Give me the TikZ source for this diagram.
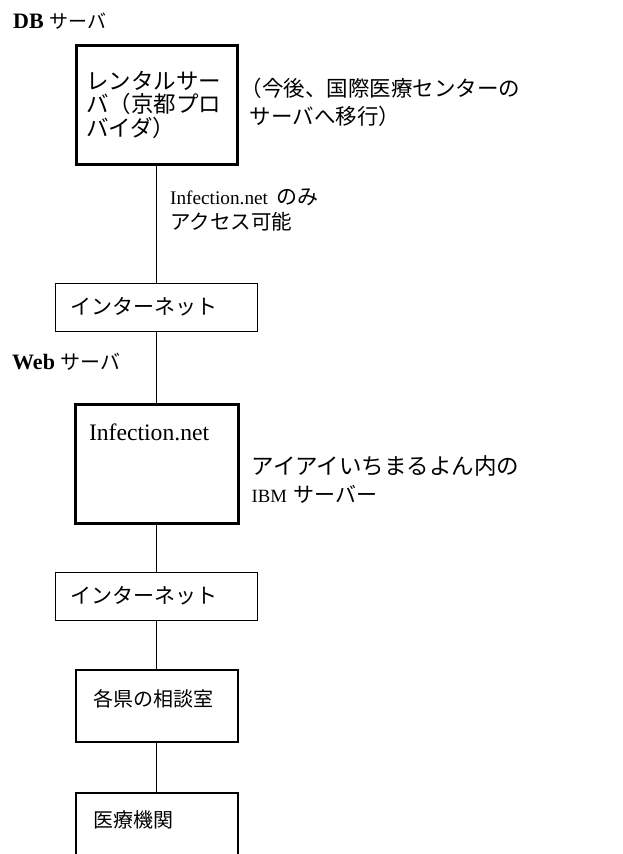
\documentclass[tikz,border=0pt]{standalone}
\usepackage{fontspec}
\setmainfont{Liberation Serif}[Scale=1.1]
\newfontfamily\jp{Noto Sans CJK JP}
\usetikzlibrary{positioning}

\begin{document}
\begin{tikzpicture}[x=1pt, y=-1pt, every node/.style={font=\fontsize{20}{25}\selectfont}, srvbox/.style={draw,line width=3pt,align=left}, netbox/.style={draw,line width=1pt,minimum height=48pt,text width=172pt,inner xsep=15pt,align=left,font=\jp\fontsize{21}{25}\selectfont}, sitebox/.style={draw,line width=2pt,text width=126pt,inner xsep=18pt,inner ysep=8pt,align=left,font=\jp\fontsize{20}{25}\selectfont}, note/.style={anchor=west,align=left,inner sep=0pt}, link/.style={line width=1.3pt}]
\path[use as bounding box,clip] (0,0) rectangle (623,854);
\node[srvbox,minimum height=119pt,text width=141pt,inner xsep=10pt,font=\jp\fontsize{22.5}{23.5}\selectfont] (rental) at (156.5,104.5) {レンタルサー\\バ（京都プロ\\バイダ）};
\node[netbox,below=117pt of rental] (net1) {インターネット};
\node[srvbox,below=71pt of net1,text width=135pt,inner xsep=14pt,inner ysep=8pt,text height=28pt,text depth=75pt,font=\fontsize{21.5}{25}\selectfont] (web) {Infection.net};
\node[netbox,below=47pt of web] (net2) {インターネット};
\node[sitebox,below=48pt of net2,text height=29pt,text depth=27pt] (office) {各県の相談室};
\node[sitebox,below=49pt of office,text height=27pt,text depth=100pt] (clinic) {医療機関};
% labels
\node[note] (dblabel) at (13,21) {{\bfseries DB} {\jp\fontsize{19}{25}\selectfont サーバ}};
\node[note,right=2pt of rental,yshift=2.5pt,font=\jp\fontsize{21.5}{28}\selectfont] (move) {（今後、国際医療センターの\\\hspace*{9pt}サーバへ移行）};
\node[note] (access) at (170,209.5) {\fontsize{17.5}{25}\selectfont Infection.net\hspace{4pt} {\jp\fontsize{21}{25}\selectfont のみ}\\{\jp\fontsize{20.5}{25}\selectfont アクセス可能}};
\node[note] (weblabel) at (12,362) {{\bfseries Web} {\jp\fontsize{20}{25}\selectfont サーバ}};
\node[note,right=12pt of web,yshift=-16.5pt,font=\fontsize{22.5}{28}\selectfont] (ibm) {{\jp アイアイいちまるよん内の}\\{\fontsize{17}{28}\selectfont IBM} {\jp\fontsize{21}{28}\selectfont サーバー}};
% links
\draw[link] (rental) -- (net1);
\draw[link] (net1) -- (web);
\draw[link] (web) -- (net2);
\draw[link] (net2) -- (office);
\draw[link] (office) -- (clinic);
\end{tikzpicture}
\end{document}
